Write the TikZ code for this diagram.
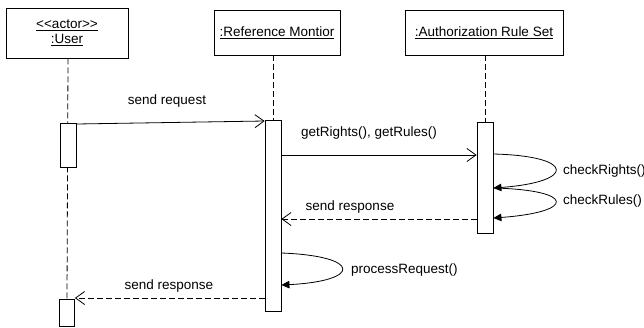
\documentclass[tikz,border=0pt]{standalone}
\usepackage{fontspec}
\setmainfont{Liberation Sans}
\usetikzlibrary{arrows.meta,calc}

\begin{document}
\begin{tikzpicture}[x=1pt,y=-1pt,
  every node/.style={font=\fontsize{13.5}{16}\selectfont},
  lifebox/.style={draw,line width=0.8pt,fill=white,inner sep=0pt,align=center},
  activation/.style={draw,line width=0.8pt,fill=white,inner sep=0pt,minimum width=16pt},
  lifeline/.style={line width=0.8pt,dash pattern=on 6pt off 3pt},
  syncmsg/.style={line width=0.8pt,-{Straight Barb[length=9pt,width=13pt]}},
  replymsg/.style={line width=0.8pt,dash pattern=on 6pt off 3pt,-{Straight Barb[length=9pt,width=13pt]}},
  selfmsg/.style={line width=0.8pt,-{Triangle[length=8pt,width=7.5pt]}},
  msglabel/.style={inner sep=0pt}
]
\useasboundingbox (0,0) rectangle (644,327);

% participants
\node[lifebox,minimum width=122pt,minimum height=50pt] (user) at (67,33)
  {\underline{<{}<actor>{}>}\\[-1pt]\underline{:User}};
\node[lifebox,minimum width=126pt,minimum height=45pt] (rm) at (277,32.5)
  {\underline{:Reference Montior}};
\node[lifebox,minimum width=158pt,minimum height=45pt] (ars) at (484,32.5)
  {\underline{:Authorization Rule Set}};

% top ends of the activation bars
\coordinate (uA) at (68,123);
\coordinate (uB) at (67,299);
\coordinate (rA) at (273,120);
\coordinate (aA) at (485,122);

% lifelines
\draw[lifeline] (user.south -| uA) -- (uB);
\draw[lifeline] (rm.south -| rA) -- (rA);
\draw[lifeline] (ars.south -| aA) -- (aA);

% activation bars
\node[activation,minimum height=44pt,anchor=north] (actU1) at (uA) {};
\node[activation,minimum width=15pt,minimum height=27pt,anchor=north] (actU2) at (uB) {};
\node[activation,minimum height=191pt,anchor=north] (actR) at (rA) {};
\node[activation,minimum height=111pt,anchor=north] (actA) at (aA) {};

% messages
\draw[syncmsg] ($(actU1.north east)+(0,1)$) -- ($(actR.north west)+(0,1)$);
\node[msglabel] (l1) at (167,101) {send request};

\draw[syncmsg] ($(actR.north east)+(0,35)$) -- ($(actA.north west)+(0,33)$);
\node[msglabel] (l2) at (369,133) {getRights(), getRules()};

\coordinate (cr1) at ($(actA.north east)+(0,32)$);
\coordinate (cr2) at ($(actA.north east)+(0,66)$);
\coordinate (cr3) at ($(actA.north east)+(0,96)$);
\draw[selfmsg] (cr1) .. controls (576,156) and (576,182) .. (cr2);
\node[msglabel,anchor=west] (l3) at (563,171) {checkRights()};
\draw[selfmsg] (cr2) .. controls (576,190) and (576,212) .. (cr3);
\node[msglabel,anchor=west] (l4) at (563,201) {checkRules()};

\draw[replymsg] ($(actA.north west)+(0,97)$) -- ($(actR.north east)+(0,99)$);
\node[msglabel] (l5) at (350,207) {send response};

\coordinate (pr1) at ($(actR.north east)+(0,133)$);
\coordinate (pr2) at ($(actR.north east)+(0,165)$);
\draw[selfmsg] (pr1) .. controls (362,256) and (362,281) .. (pr2);
\node[msglabel,anchor=west] (l6) at (351,270) {processRequest()};

\draw[replymsg] ($(actR.north west)+(0,178)$) -- ($(actU2.north east)+(0,-1)$);
\node[msglabel] (l7) at (169,286) {send response};
\end{tikzpicture}
\end{document}
